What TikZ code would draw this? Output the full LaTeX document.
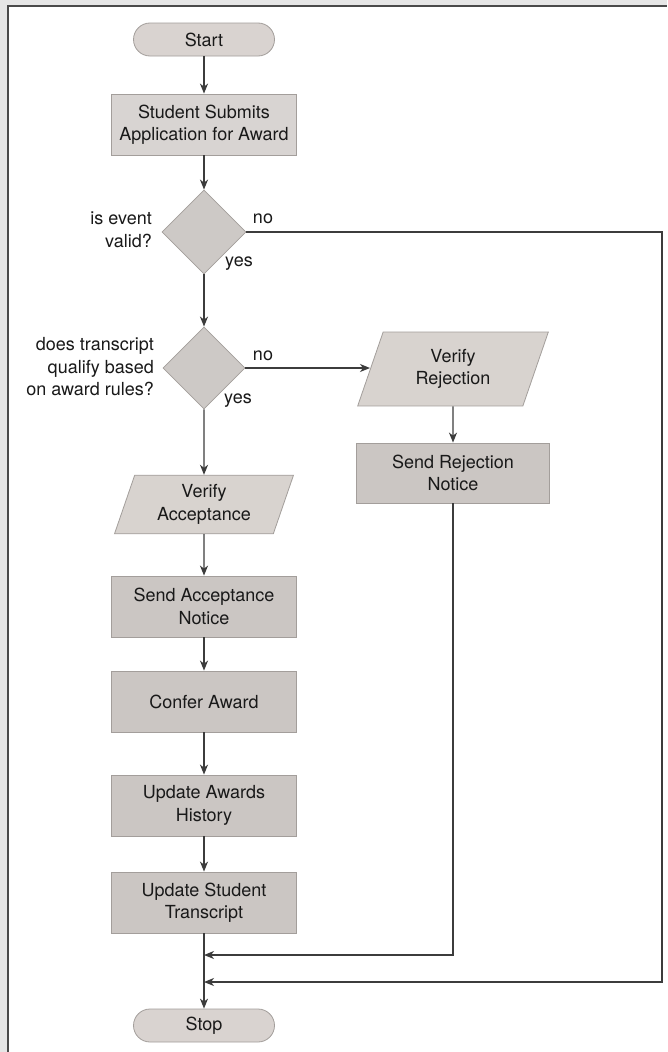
\documentclass[tikz,border=0pt]{standalone}
\usepackage{fontspec}
\setmainfont{TeX Gyre Heros}
\usetikzlibrary{arrows.meta, shapes.geometric}
\definecolor{panelgrey}{HTML}{E6E6E6}
\definecolor{framedark}{HTML}{4A4A4A}
\definecolor{boxfill}{HTML}{CBC6C3}
\definecolor{termfill}{HTML}{D9D3D0}
\definecolor{iofill}{HTML}{D8D3CF}
\definecolor{decfill}{HTML}{CDC9C6}
\definecolor{edgegrey}{HTML}{A39E9B}
\definecolor{linegrey}{HTML}{3C3C3C}

\begin{document}
\begin{tikzpicture}[x=1pt, y=-1pt,
    every node/.style={font=\fontsize{18}{22.5}\selectfont, text=black!90, align=center, inner sep=0pt},
    terminal/.style={fill=termfill, draw=edgegrey, line width=0.8pt, rounded corners=16.5pt,
                     minimum width=141pt, minimum height=33pt},
    process/.style={fill=boxfill, draw=edgegrey, line width=0.8pt, minimum width=185pt, minimum height=61pt},
    decision/.style={diamond, fill=decfill, draw=edgegrey, line width=0.8pt, minimum width=84pt, minimum height=84pt},
    io/.style={trapezium, trapezium left angle=71, trapezium right angle=109,
               fill=iofill, draw=edgegrey, line width=0.8pt, minimum height=57pt},
    arr/.style={draw=linegrey, line width=1.3pt, -{Stealth[length=10pt, width=8pt, inset=3pt]}}]
    \useasboundingbox (0,0) rectangle (667,1052);
    % panel
    \fill[panelgrey] (0,0) rectangle (667,1052);
    \fill[white] (8,6) rectangle (667,1052);
    \draw[framedark, line width=1.5pt] (8,1052) -- (8,6) -- (667,6);

    % main column
    \node[terminal] (start) at (204,39.5) {Start};
    \node[process, fill=boxfill!75!white] (submit) at (204,124.5) {Student Submits\\Application for Award};
    \node[decision] (valid) at (204,232) {};
    \node[decision, minimum width=82pt, minimum height=82pt] (qualify) at (204,368) {};
    \node[io, minimum width=179pt] (vacc) at (204,504.5) {Verify\\Acceptance};
    \node[process] (sacc) at (204,606.5) {Send Acceptance\\Notice};
    \node[process] (confer) at (204,701.5) {Confer Award};
    \node[process] (history) at (204,805.5) {Update Awards\\History};
    \node[process] (transcript) at (204,902.5) {Update Student\\Transcript};
    \node[terminal] (stop) at (204,1025.5) {Stop};

    % rejection branch
    \node[io, minimum width=191pt] (vrej) at (453,369) {Verify\\Rejection};
    \node[process, minimum width=193pt, minimum height=60pt] (srej) at (453,473) {Send Rejection\\Notice};

    % decision labels
    \node[anchor=east, align=right] (validq) at (152,230) {is event\\valid?};
    \node (validno) at (263,219) {no};
    \node (validyes) at (239,264) {yes};
    \node[anchor=east, align=right] (qualifyq) at (154,367) {does transcript\\qualify based\\on award rules?};
    \node (qualifyno) at (263,356) {no};
    \node (qualifyyes) at (238,401) {yes};

    \coordinate (joinA) at (204,955);
    \coordinate (joinB) at (204,982);
    \coordinate (rbend) at (662,982);

    % connectors
    \draw[arr] (start) -- (submit);
    \draw[arr] (submit) -- (valid);
    \draw[arr] (valid) -- (qualify);
    \draw[arr] (qualify) -- (vacc);
    \draw[arr] (vacc) -- (sacc);
    \draw[arr] (sacc) -- (confer);
    \draw[arr] (confer) -- (history);
    \draw[arr] (history) -- (transcript);
    \draw[arr] (transcript) -- (stop);
    \draw[arr] (qualify.east) -- (qualify.east -| vrej.west);
    \draw[arr] (vrej) -- (srej);
    \draw[arr] (srej.south) |- (joinA);
    \draw[arr] (valid.east) -| (rbend) -- (joinB);
\end{tikzpicture}
\end{document}
